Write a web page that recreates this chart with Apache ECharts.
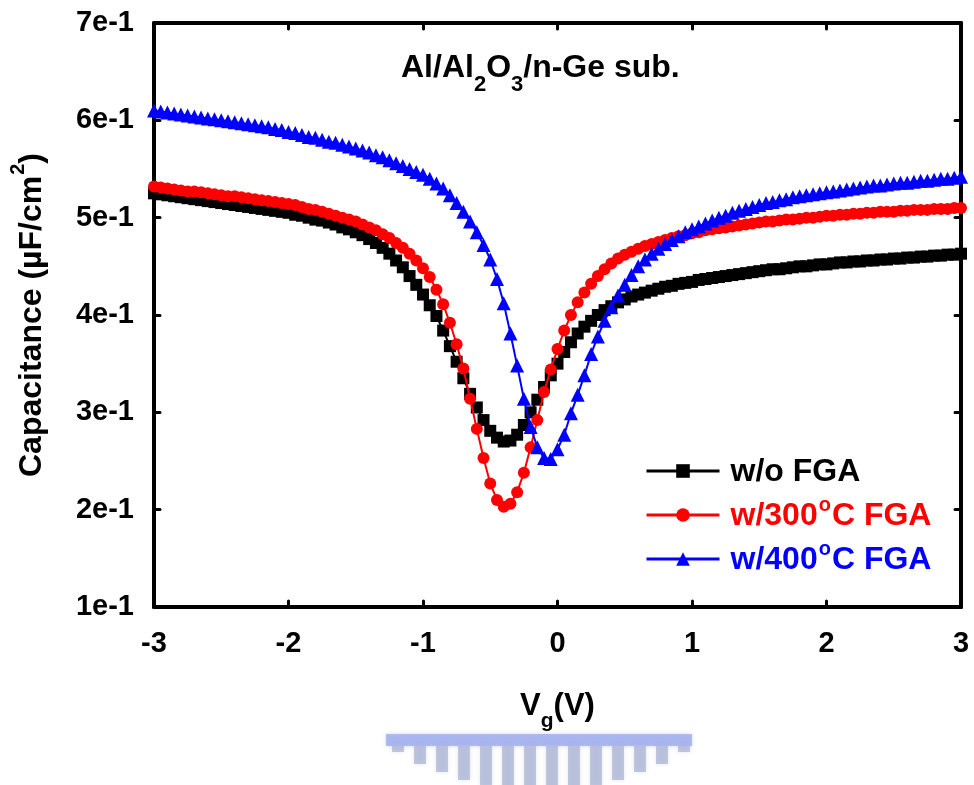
<!DOCTYPE html>
<html>
<head>
<meta charset="utf-8">
<script src="https://cdn.jsdelivr.net/npm/echarts@6/dist/echarts.min.js"></script>
<style>
  html, body { margin: 0; padding: 0; background: #fff; }
  #chart { width: 974px; height: 785px; }
</style>
</head>
<body>
<div id="chart"></div>
<script>
// Gate voltage sweep, -3 V to 3 V in 0.05 V steps
const voltages = [
  -3.00,-2.95,-2.90,-2.85,-2.80,-2.75,-2.70,-2.65,-2.60,-2.55,
  -2.50,-2.45,-2.40,-2.35,-2.30,-2.25,-2.20,-2.15,-2.10,-2.05,
  -2.00,-1.95,-1.90,-1.85,-1.80,-1.75,-1.70,-1.65,-1.60,-1.55,
  -1.50,-1.45,-1.40,-1.35,-1.30,-1.25,-1.20,-1.15,-1.10,-1.05,
  -1.00,-0.95,-0.90,-0.85,-0.80,-0.75,-0.70,-0.65,-0.60,-0.55,
  -0.50,-0.45,-0.40,-0.35,-0.30,-0.25,-0.20,-0.15,-0.10,-0.05,
   0.00, 0.05, 0.10, 0.15, 0.20, 0.25, 0.30, 0.35, 0.40, 0.45,
   0.50, 0.55, 0.60, 0.65, 0.70, 0.75, 0.80, 0.85, 0.90, 0.95,
   1.00, 1.05, 1.10, 1.15, 1.20, 1.25, 1.30, 1.35, 1.40, 1.45,
   1.50, 1.55, 1.60, 1.65, 1.70, 1.75, 1.80, 1.85, 1.90, 1.95,
   2.00, 2.05, 2.10, 2.15, 2.20, 2.25, 2.30, 2.35, 2.40, 2.45,
   2.50, 2.55, 2.60, 2.65, 2.70, 2.75, 2.80, 2.85, 2.90, 2.95,
   3.00
];

// Capacitance (uF/cm^2), without forming-gas anneal
const capNoFGA = [
  0.525,0.524,0.523,0.522,0.521,0.520,0.519,0.518,0.517,0.516,
  0.515,0.514,0.513,0.512,0.511,0.510,0.509,0.508,0.507,0.506,
  0.505,0.503,0.502,0.500,0.498,0.497,0.495,0.493,0.490,0.488,
  0.485,0.482,0.478,0.474,0.469,0.463,0.456,0.449,0.440,0.431,
  0.421,0.410,0.399,0.384,0.368,0.352,0.335,0.319,0.305,0.292,
  0.281,0.274,0.270,0.271,0.277,0.287,0.300,0.313,0.326,0.338,
  0.350,0.362,0.372,0.381,0.388,0.394,0.400,0.405,0.409,0.413,
  0.416,0.419,0.421,0.423,0.425,0.427,0.429,0.430,0.432,0.433,
  0.434,0.436,0.437,0.438,0.439,0.440,0.441,0.442,0.443,0.444,
  0.445,0.446,0.447,0.447,0.448,0.449,0.450,0.450,0.451,0.452,
  0.452,0.453,0.454,0.454,0.455,0.455,0.456,0.456,0.457,0.457,
  0.458,0.458,0.459,0.459,0.460,0.460,0.461,0.461,0.462,0.462,
  0.463
];

// Capacitance (uF/cm^2), 300 C forming-gas anneal
const cap300 = [
  0.532,0.531,0.530,0.529,0.528,0.527,0.527,0.526,0.525,0.524,
  0.523,0.522,0.522,0.521,0.520,0.519,0.518,0.517,0.516,0.515,
  0.514,0.513,0.511,0.509,0.508,0.506,0.504,0.502,0.500,0.498,
  0.496,0.493,0.490,0.487,0.483,0.479,0.474,0.469,0.463,0.456,
  0.448,0.439,0.426,0.411,0.392,0.370,0.345,0.314,0.283,0.253,
  0.227,0.210,0.203,0.206,0.218,0.238,0.264,0.292,0.321,0.344,
  0.365,0.384,0.400,0.413,0.423,0.432,0.440,0.447,0.453,0.458,
  0.462,0.465,0.468,0.471,0.473,0.475,0.477,0.479,0.481,0.482,
  0.484,0.485,0.487,0.488,0.489,0.490,0.491,0.492,0.493,0.494,
  0.495,0.496,0.496,0.497,0.498,0.498,0.499,0.500,0.500,0.501,
  0.502,0.502,0.503,0.503,0.504,0.504,0.505,0.505,0.506,0.506,
  0.506,0.507,0.507,0.508,0.508,0.508,0.509,0.509,0.509,0.510,
  0.510
];

// Capacitance (uF/cm^2), 400 C forming-gas anneal
const cap400 = [
  0.610,0.609,0.608,0.607,0.606,0.605,0.604,0.603,0.602,0.601,
  0.600,0.599,0.598,0.597,0.596,0.595,0.594,0.593,0.591,0.590,
  0.588,0.587,0.585,0.583,0.582,0.580,0.578,0.577,0.575,0.573,
  0.571,0.569,0.567,0.564,0.562,0.559,0.556,0.553,0.550,0.547,
  0.544,0.540,0.535,0.530,0.523,0.515,0.506,0.496,0.485,0.472,
  0.457,0.437,0.412,0.381,0.348,0.314,0.285,0.264,0.253,0.252,
  0.262,0.277,0.299,0.318,0.338,0.360,0.378,0.394,0.408,0.420,
  0.431,0.441,0.450,0.457,0.463,0.468,0.473,0.477,0.481,0.485,
  0.488,0.491,0.494,0.497,0.500,0.502,0.505,0.507,0.509,0.511,
  0.513,0.515,0.516,0.518,0.519,0.521,0.522,0.523,0.524,0.525,
  0.526,0.527,0.528,0.529,0.530,0.531,0.532,0.533,0.533,0.534,
  0.535,0.536,0.536,0.537,0.538,0.538,0.539,0.540,0.540,0.541,
  0.542
];

const seriesNames = ['w/o FGA', 'w/300\u00B0C FGA', 'w/400\u00B0C FGA'];
const seriesColors = ['#000000', '#ff0000', '#0000ff'];
const seriesSymbols = ['rect', 'circle', 'triangle'];
const seriesValues = [capNoFGA, cap300, cap400];

const FONT = '"Liberation Sans", Arial, sans-serif';

const pair = (vals) => voltages.map((v, i) => [v, vals[i]]);

const chart = echarts.init(document.getElementById('chart'), null, { renderer: 'canvas' });

const tickCommon = {
  axisLine: { show: true, onZero: false, lineStyle: { color: '#000', width: 4 } },
  axisTick: { show: true, inside: true, length: 6, lineStyle: { color: '#000', width: 3, cap: 'round' } },
  splitLine: { show: false }
};

const option = {
  backgroundColor: '#ffffff',
  animation: false,
  textStyle: { fontFamily: FONT },
  grid: { left: 150, right: 13, top: 23, bottom: 178, containLabel: false },
  title: {
    text: '{a|Al/Al}{s|2}{a|O}{s|3}{a|/n-Ge sub.}',
    left: 396,
    top: 47,
    textStyle: {
      rich: {
        a: { fontFamily: FONT, fontWeight: 'bold', fontSize: 32, color: '#000', lineHeight: 36, verticalAlign: 'top' },
        s: { fontFamily: FONT, fontWeight: 'bold', fontSize: 22, color: '#000', lineHeight: 36, verticalAlign: 'bottom', padding: [0, 0, -8, 0] }
      }
    }
  },
  legend: {
    orient: 'vertical',
    left: 640,
    top: 451,
    itemWidth: 73,
    itemHeight: 17,
    itemGap: 7,
    selectedMode: false,
    lineStyle: { width: 3 },
    data: seriesNames.map((n, i) => ({ name: n, textStyle: { color: seriesColors[i] } })),
    formatter: (name) => {
      const parts = name.split('\u00B0');
      if (parts.length === 1) return '{t|' + name + '}';
      return '{t|' + parts[0] + '}{u|o}{t|' + parts[1] + '}';
    },
    textStyle: {
      padding: [0, 0, 0, 6],
      rich: {
        t: { fontFamily: FONT, fontWeight: 'bold', fontSize: 32, lineHeight: 34, verticalAlign: 'bottom' },
        u: { fontFamily: FONT, fontWeight: 'bold', fontSize: 20, lineHeight: 34, verticalAlign: 'top', padding: [-3, 1, 0, 1] }
      }
    }
  },
  xAxis: [
    Object.assign({
      type: 'value', min: -3, max: 3, interval: 1, position: 'bottom',
      name: 'V{s|g}(V)',
      nameLocation: 'middle',
      nameGap: 84,
      nameTextStyle: {
        rich: {
          s: { fontFamily: FONT, fontWeight: 'bold', fontSize: 21, verticalAlign: 'bottom', padding: [0, 0, -10, 0] }
        },
        fontFamily: FONT, fontWeight: 'bold', fontSize: 31, color: '#000'
      },
      axisLabel: {
        margin: 22, color: '#000', fontFamily: FONT, fontWeight: 'bold', fontSize: 29,
        formatter: (v) => String(Math.round(v))
      }
    }, tickCommon),
    Object.assign({
      type: 'value', min: -3, max: 3, interval: 1, position: 'top',
      axisLabel: { show: false }
    }, tickCommon)
  ],
  yAxis: [
    Object.assign({
      type: 'value', min: 0.1, max: 0.7, interval: 0.1, position: 'left',
      name: 'Capacitance (\u00B5F/cm{s|2})',
      nameLocation: 'middle',
      nameGap: 106,
      nameRotate: 90,
      nameTextStyle: {
        fontFamily: FONT, fontWeight: 'bold', fontSize: 32, color: '#000',
        rich: {
          s: { fontFamily: FONT, fontWeight: 'bold', fontSize: 20, verticalAlign: 'top', padding: [-8, 0, 0, 1] }
        }
      },
      axisLabel: {
        margin: 20, color: '#000', fontFamily: FONT, fontWeight: 'bold', fontSize: 29,
        formatter: (v) => Math.round(v * 10) + 'e-1'
      }
    }, tickCommon),
    Object.assign({
      type: 'value', min: 0.1, max: 0.7, interval: 0.1, position: 'right',
      axisLabel: { show: false }
    }, tickCommon)
  ],
  series: seriesNames.map((name, i) => ({
    name: name,
    type: 'line',
    xAxisIndex: 0,
    yAxisIndex: 0,
    data: pair(seriesValues[i]),
    symbol: seriesSymbols[i],
    symbolSize: [12, 12, 14][i],
    showAllSymbol: true,
    color: seriesColors[i],
    itemStyle: { color: seriesColors[i] },
    lineStyle: { color: seriesColors[i], width: 2 },
    z: 3 + i
  })),
  graphic: [
    // faint emblem printed under the axis title
    {
      type: 'group',
      left: 386,
      top: 734,
      silent: true,
      children: (() => {
        const kids = [{ type: 'rect', shape: { x: 0, y: 0, width: 306, height: 12 }, style: { fill: 'rgba(150,165,235,0.7)', shadowBlur: 4, shadowColor: 'rgba(150,165,235,0.6)' } }];
        const cols = [[6, 6], [28, 18], [50, 26], [72, 34], [94, 40], [116, 46], [138, 50], [160, 50], [182, 46], [204, 40], [226, 34], [248, 26], [270, 18], [292, 6]];
        cols.forEach(([x, h]) => {
          kids.push({ type: 'rect', shape: { x: x, y: 12, width: 12, height: h }, style: { fill: 'rgba(150,160,200,0.55)', shadowBlur: 4, shadowColor: 'rgba(150,160,200,0.5)' } });
        });
        return kids;
      })()
    }
  ]
};

chart.setOption(option);
</script>
</body>
</html>
